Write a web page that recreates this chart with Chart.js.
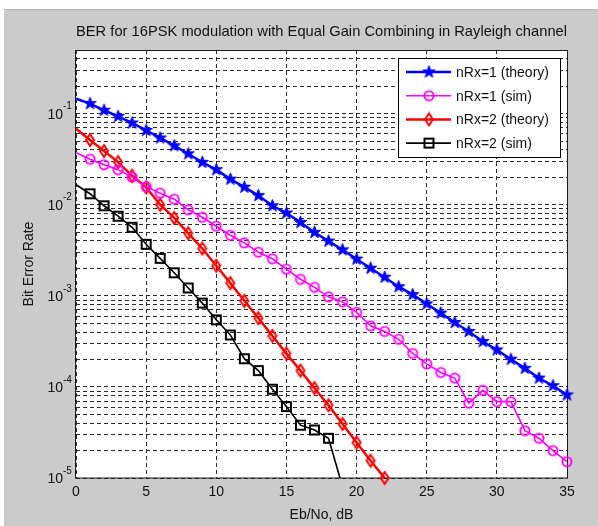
<!DOCTYPE html>
<html>
<head>
<meta charset="utf-8">
<script src="https://cdn.jsdelivr.net/npm/chart.js@4.4.1/dist/chart.umd.min.js"></script>
<style>
  html, body { margin: 0; padding: 0; background: #fff; }
  #wrap { width: 598px; height: 526px; }
</style>
</head>
<body>
<div id="wrap"><canvas id="ber" width="598" height="526"></canvas></div>
<script>
// Eb/No axis (dB)
const snr = [0,1,2,3,4,5,6,7,8,9,10,11,12,13,14,15,16,17,18,19,20,21,22,23,24,25,26,27,28,29,30,31,32,33,34,35];

// BER curves
const berTheory1 = [0.146,0.129,0.109,0.0933,0.0791,0.0655,0.0541,0.0445,0.0363,0.0292,0.0243,0.0191,0.0156,0.0126,0.00975,0.00811,0.00640,0.00497,0.00399,0.00320,0.00253,0.00201,0.00160,0.00126,0.00103,0.000817,0.000646,0.000509,0.000406,0.000315,0.000255,0.000201,0.000160,0.000125,0.000103,0.0000817];
const berSim1 = [0.0372,0.0316,0.0275,0.0243,0.0201,0.0158,0.0134,0.0115,0.00881,0.00729,0.00581,0.00462,0.00382,0.00301,0.00255,0.00196,0.00152,0.00124,0.000975,0.000859,0.000659,0.000468,0.000407,0.000333,0.000233,0.000179,0.000144,0.000125,0.0000663,0.0000917,0.0000689,0.0000689,0.0000331,0.0000273,0.0000200,0.0000151];
const berTheory2 = [0.0684,0.0514,0.0389,0.0294,0.0208,0.0155,0.0100,0.00716,0.00486,0.00331,0.00214,0.00138,0.000881,0.000569,0.000363,0.000232,0.000151,0.0000969,0.0000630,0.0000392,0.0000245,0.0000155,0.0000100];
const berSim2 = [0.0166,0.0132,0.00975,0.00748,0.00566,0.00368,0.00258,0.00179,0.00122,0.000832,0.000545,0.000372,0.000204,0.000151,0.0000944,0.0000608,0.0000380,0.0000337,0.0000273,0.0000080];

const seriesLabels = ['nRx=1 (theory)', 'nRx=1 (sim)', 'nRx=2 (theory)', 'nRx=2 (sim)'];
const yTickExps = [-5, -4, -3, -2, -1];
const xTicks = [0, 5, 10, 15, 20, 25, 30, 35];

const FONT = "'Liberation Sans', Arial, sans-serif";

// marker images (matlab style)
function mkCanvas(w, h) {
  const c = document.createElement('canvas');
  c.width = w; c.height = h;
  return c;
}
function starMarker(r, color) {
  const s = Math.ceil(r * 2 + 2), c = mkCanvas(s, s), g = c.getContext('2d');
  const cx = s / 2, cy = s / 2, ri = r * 0.4;
  g.beginPath();
  for (let i = 0; i < 10; i++) {
    const a = -Math.PI / 2 + i * Math.PI / 5;
    const rr = i % 2 ? ri : r;
    g.lineTo(cx + rr * Math.cos(a), cy + rr * Math.sin(a));
  }
  g.closePath();
  g.fillStyle = color; g.fill();
  g.strokeStyle = color; g.lineWidth = 1; g.stroke();
  return c;
}
function circleMarker(r, color) {
  const s = Math.ceil(r * 2 + 4), c = mkCanvas(s, s), g = c.getContext('2d');
  g.beginPath(); g.arc(s / 2, s / 2, r, 0, Math.PI * 2);
  g.strokeStyle = color; g.lineWidth = 1.9; g.stroke();
  return c;
}
function diamondMarker(w, h, color) {
  const c = mkCanvas(w + 4, h + 4), g = c.getContext('2d');
  const cx = (w + 4) / 2, cy = (h + 4) / 2;
  g.beginPath();
  g.moveTo(cx, cy - h / 2); g.lineTo(cx + w / 2, cy); g.lineTo(cx, cy + h / 2); g.lineTo(cx - w / 2, cy);
  g.closePath();
  g.strokeStyle = color; g.lineWidth = 2; g.stroke();
  return c;
}
function squareMarker(a, color) {
  const s = a + 4, c = mkCanvas(s, s), g = c.getContext('2d');
  g.strokeStyle = color; g.lineWidth = 2;
  g.strokeRect(2, 2, a, a);
  return c;
}

const markers = [
  starMarker(6.5, '#0000ff'),
  circleMarker(4.6, '#ff00ff'),
  diamondMarker(8, 12, '#ff0000'),
  squareMarker(9, '#000000')
];
const colors = ['#0000ff', '#ff00ff', '#ff0000', '#000000'];
const widths = [2.5, 1.6, 2.5, 1.6];
const allSeries = [berTheory1, berSim1, berTheory2, berSim2];

function pts(vals) {
  return vals.map((v, i) => ({ x: snr[i], y: v }));
}

const datasets = allSeries.map((vals, k) => ({
  label: seriesLabels[k],
  data: pts(vals),
  borderColor: colors[k],
  backgroundColor: colors[k],
  borderWidth: widths[k],
  pointStyle: markers[k],
  pointRadius: ctx => ctx.dataIndex === 0 ? 0 : 5,
  pointHoverRadius: 5,
  tension: 0,
  clip: k === 3 ? 0 : 12
}));

const frame = {
  id: 'frame',
  beforeDraw(chart) {
    const { ctx, chartArea: a } = chart;
    ctx.save();
    ctx.fillStyle = '#ffffff';
    ctx.fillRect(0, 0, chart.width, chart.height);
    ctx.fillStyle = '#cbcbcb';
    ctx.fillRect(4, 9, chart.width - 4, chart.height - 9);
    ctx.fillStyle = '#b4b4b4';
    ctx.fillRect(4, 9, chart.width - 4, 1);
    ctx.fillStyle = '#ffffff';
    ctx.fillRect(a.left, a.top, a.right - a.left, a.bottom - a.top);
    ctx.restore();
  },
  beforeDatasetsDraw(chart) {
    const { ctx, chartArea: a } = chart;
    ctx.save();
    ctx.strokeStyle = '#1a1a1a';
    ctx.lineWidth = 1;
    ctx.strokeRect(Math.round(a.left) - 0.5, Math.round(a.top) + 0.5,
      Math.round(a.right - a.left) + 1, Math.round(a.bottom - a.top) - 0.5);
    ctx.restore();
  },
  afterDatasetsDraw(chart) {
    const { ctx, chartArea: a } = chart;
    const y = chart.scales.y;
    ctx.save();
    // y tick labels with exponents
    ctx.fillStyle = '#111';
    yTickExps.forEach(e => {
      const py = y.getPixelForValue(Math.pow(10, e));
      ctx.font = '14px ' + FONT;
      ctx.textAlign = 'right';
      ctx.textBaseline = 'middle';
      ctx.fillText('10', a.left - 13, py + 1);
      ctx.font = '10px ' + FONT;
      ctx.textAlign = 'left';
      ctx.fillText(String(e), a.left - 13, py - 7);
    });
    // legend box
    const lx = a.right - 169, ly = a.top + 8, lw = 162, lh = 99;
    ctx.fillStyle = '#ffffff';
    ctx.fillRect(lx, ly, lw, lh);
    ctx.strokeStyle = '#000';
    ctx.lineWidth = 1;
    ctx.strokeRect(lx + 0.5, ly + 0.5, lw, lh);
    chart.data.datasets.forEach((ds, k) => {
      const cy = ly + 14 + k * 23.7;
      ctx.strokeStyle = ds.borderColor;
      ctx.lineWidth = ds.borderWidth;
      ctx.beginPath();
      ctx.moveTo(lx + 8, cy);
      ctx.lineTo(lx + 53, cy);
      ctx.stroke();
      const m = markers[k];
      ctx.drawImage(m, lx + 31 - m.width / 2, cy - m.height / 2);
      ctx.fillStyle = '#111';
      ctx.font = '14px ' + FONT;
      ctx.textAlign = 'left';
      ctx.textBaseline = 'middle';
      ctx.fillText(ds.label, lx + 58, cy + 1);
    });
    ctx.restore();
  }
};

new Chart(document.getElementById('ber'), {
  type: 'line',
  data: { datasets: datasets },
  options: {
    responsive: false,
    animation: false,
    events: [],
    layout: { padding: { left: 0, right: 31, top: 0, bottom: 0 } },
    scales: {
      x: {
        type: 'linear',
        min: 0,
        max: 35,
        afterBuildTicks: s => { s.ticks = xTicks.map(v => ({ value: v })); },
        afterFit: s => { s.height = 48; },
        ticks: { color: '#111', font: { size: 14, family: FONT }, padding: 6, maxRotation: 0 },
        grid: { color: '#2a2a2a', lineWidth: 1, drawTicks: false },
        border: { display: false, dash: [4, 3] },
        title: { display: true, text: 'Eb/No, dB', color: '#111', font: { size: 14, family: FONT }, padding: { top: 0, bottom: 2 } }
      },
      y: {
        type: 'logarithmic',
        min: 1e-5,
        max: 0.5,
        afterBuildTicks: s => {
          const t = [];
          yTickExps.forEach(e => {
            for (let m = 1; m <= 9; m++) {
              const v = m * Math.pow(10, e);
              if (v < 0.5) t.push({ value: v });
            }
          });
          s.ticks = t;
        },
        afterFit: s => { s.width = 76; },
        ticks: { display: false, autoSkip: false },
        grid: { color: '#2a2a2a', lineWidth: 1, drawTicks: false },
        border: { display: false, dash: [4, 3] },
        title: { display: true, text: 'Bit Error Rate', color: '#111', font: { size: 14, family: FONT }, padding: { top: 21, bottom: 0 } }
      }
    },
    plugins: {
      legend: { display: false },
      tooltip: { enabled: false },
      title: {
        display: true,
        fullSize: false,
        text: 'BER for 16PSK modulation with Equal Gain Combining in Rayleigh channel',
        color: '#111',
        font: { size: 15, family: FONT, weight: 'normal' },
        padding: { top: 23, bottom: 9 }
      }
    }
  },
  plugins: [frame]
});
</script>
</body>
</html>
